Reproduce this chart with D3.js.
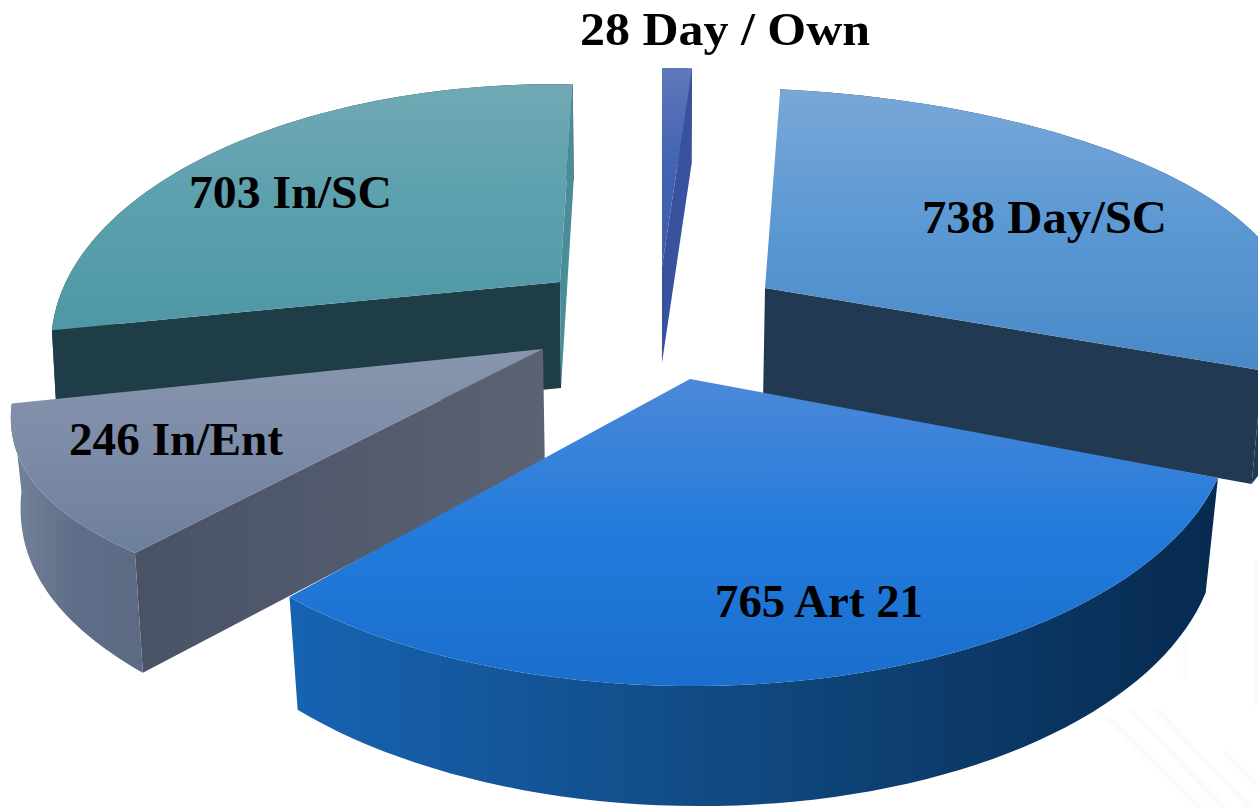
<!DOCTYPE html>
<html>
<head>
<meta charset="utf-8">
<script src="https://cdn.jsdelivr.net/npm/d3@7"></script>
<style>
  html, body { margin: 0; padding: 0; background: #fff; overflow: hidden; }
  text { font-family: "Liberation Serif", serif; font-weight: 700; fill: #000; }
</style>
</head>
<body>
<svg id="chart" width="1258" height="808" viewBox="0 0 1258 808"></svg>
<script>
// Case counts by category, clockwise from twelve o'clock.
const categories = ["Day / Own", "Day/SC", "Art 21", "In/Ent", "In/SC"];
const values = [28, 738, 765, 246, 703];
const valueLabels = ["28 Day / Own", "738 Day/SC", "765 Art 21", "246 In/Ent", "703 In/SC"];

// Projection of each exploded wedge onto the page: apex, linear terms,
// perspective strength, rim bulge, extrusion height terms and base shrink.
const frames = [
  { x0: 662, y0: 267, a: 424, b: 0, c: 0, d: -199, k: 0, bulge: 0, D0: 96, p: 0, q: 0, shrink: 0.982 },
  { x0: 765, y0: 288, a: 525, b: -22, c: 11, d: -200, k: 0, bulge: 0, D0: 108, p: 0, q: -15, shrink: 0.982 },
  { x0: 690, y0: 379, a: 534, b: -4, c: -1, d: -261, k: 0.15, bulge: 0, D0: 105, p: 5, q: -15, shrink: 0.978 },
  { x0: 543, y0: 349, a: 523, b: 15, c: -2, d: -243, k: 0.15, bulge: 0.018, D0: 113, p: 34.2, q: -40.5, shrink: 0.985 },
  { x0: 560, y0: 282, a: 489, b: 16, c: 6, d: -247, k: 0.25, bulge: 0.012, D0: 106, p: 0, q: -10, shrink: 0.99 }
];

// Face colours per wedge: top face stops, rim stops, and whichever cut faces show.
const palettes = [
  { top: ["#5f78ba", "#4262b2", "#3f5cab"], rim: ["#3a539f", "#3a539f"], startFace: null, endFace: "#39529e" },
  { top: ["#79a7d7", "#5a98d4", "#4a89c8"], rim: ["#213a52", "#213a52"], startFace: null, endFace: "#213a52" },
  { top: ["#4c88d9", "#227bdb", "#1a6ecd"], rim: ["#1763b2", "#10487f", "#072a50"], startFace: null, endFace: null },
  { top: ["#8895ad", "#7c8ba7", "#6d7e9c"], rim: ["#74829b", "#5f6d88", "#5d6a84"], startFace: ["#4a5266", "#5a6273"], endFace: null },
  { top: ["#70a9b4", "#5ba0ad", "#4f97a5"], rim: ["#1f3d46", "#1f3d46"], startFace: "#1f3d46", endFace: "#4a8d99" }
];

// Label placement: left edge, baseline and drawn width.
const labelSpots = [
  { x: 580, y: 45, w: 290 },
  { x: 922, y: 233, w: 245 },
  { x: 715, y: 617, w: 208 },
  { x: 69, y: 455, w: 214 },
  { x: 189, y: 208, w: 203 }
];

// Back-to-front painting order.
const paintOrder = [4, 0, 1, 3, 2];
const vanishX = 660;

const svg = d3.select("#chart");
const defs = svg.append("defs");
const wedges = d3.pie().sort(null).value(d => d)(values);
const outline = d3.line().x(d => d[0]).y(d => d[1]);
const closed = pts => outline(pts) + "Z";

function topPoint(f, theta, r) {
  const u = r * Math.sin(theta), v = r * Math.cos(theta);
  const w = 1 + f.k * v;
  return [f.x0 + (f.a * u + f.b * v) / w, f.y0 + (f.c * u + f.d * v) / w];
}

function basePoint(f, theta, r) {
  const u = r * Math.sin(theta), v = r * Math.cos(theta);
  const t = topPoint(f, theta, r);
  return [vanishX + (t[0] - vanishX) * f.shrink, t[1] + f.D0 + f.p * u + f.q * v];
}

function rimAngles(w) {
  return d3.range(0, 61).map(i => {
    const t = i / 60;
    return { theta: w.startAngle + (w.endAngle - w.startAngle) * t, t };
  });
}

function gradient(id, stops, horizontal) {
  const g = defs.append("linearGradient").attr("id", id)
    .attr("x1", 0).attr("y1", 0)
    .attr("x2", horizontal ? 1 : 0).attr("y2", horizontal ? 0 : 1);
  stops.forEach((c, i) => g.append("stop")
    .attr("offset", i / (stops.length - 1)).attr("stop-color", c));
  return `url(#${id})`;
}

const paintFill = (id, c, horizontal) => Array.isArray(c) ? gradient(id, c, horizontal) : c;

// Faint streaks on the page behind the lower right of the pie.
const streaks = [
  [1105, 715, 1200, 808], [1130, 710, 1225, 808], [1155, 708, 1250, 808],
  [1225, 752, 1258, 785], [1186, 640, 1186, 680], [1256, 560, 1256, 705]
];
svg.append("g").selectAll("line").data(streaks).join("line")
  .attr("x1", d => d[0]).attr("y1", d => d[1]).attr("x2", d => d[2]).attr("y2", d => d[3])
  .attr("stroke", "#fbfbfc").attr("stroke-width", 5);

paintOrder.forEach(i => {
  const w = wedges[i], f = frames[i], pal = palettes[i];
  const g = svg.append("g").attr("class", "wedge").attr("data-category", categories[i]);
  const rim = rimAngles(w);
  const r = s => 1 + f.bulge * Math.sin(Math.PI * s.t);
  const topRim = rim.map(s => topPoint(f, s.theta, r(s)));
  const baseRim = rim.map(s => basePoint(f, s.theta, r(s)));
  const apexTop = topPoint(f, 0, 0), apexBase = basePoint(f, 0, 0);

  // Leading cut face, then the curved rim, the trailing cut face, the top last.
  if (pal.startFace) {
    g.append("path")
      .attr("d", closed([apexTop, topRim[0], baseRim[0], apexBase]))
      .attr("fill", paintFill(`start${i}`, pal.startFace, true));
  }

  g.append("path")
    .attr("d", closed(topRim.concat(baseRim.slice().reverse())))
    .attr("fill", paintFill(`rim${i}`, pal.rim, true));

  if (pal.endFace) {
    g.append("path")
      .attr("d", closed([apexTop, topRim[60], baseRim[60], apexBase]))
      .attr("fill", paintFill(`end${i}`, pal.endFace, true));
  }

  g.append("path")
    .attr("d", closed([apexTop].concat(topRim)))
    .attr("fill", gradient(`top${i}`, pal.top, false));
});

svg.append("g").selectAll("text").data(valueLabels).join("text")
  .attr("x", (d, i) => labelSpots[i].x)
  .attr("y", (d, i) => labelSpots[i].y)
  .attr("font-size", 47)
  .attr("textLength", (d, i) => labelSpots[i].w)
  .attr("lengthAdjust", "spacingAndGlyphs")
  .text(d => d);
</script>
</body>
</html>
